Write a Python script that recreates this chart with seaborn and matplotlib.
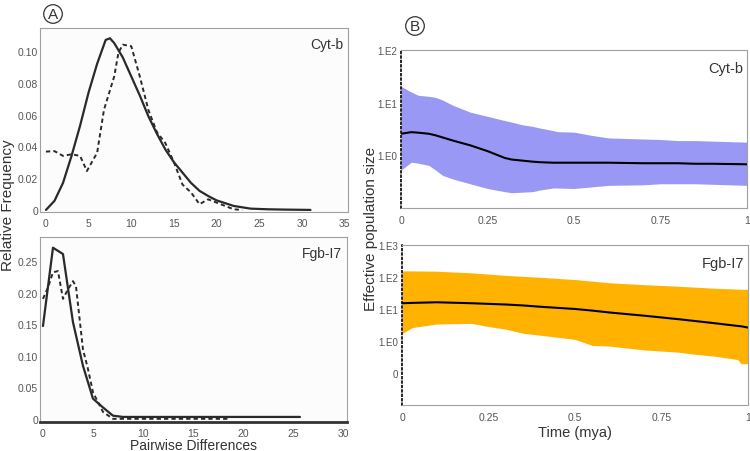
import numpy as np
import pandas as pd
import seaborn as sns
from matplotlib import pyplot as plt
from matplotlib.ticker import FixedLocator, NullLocator

sns.set_style("white")
plt.rcParams["font.family"] = ["Liberation Sans", "DejaVu Sans"]

# Panel A: mismatch distributions (observed = dashed, expected = solid)
cyt_x_exp = [0, 1, 2, 3, 4, 5, 6, 7, 7.5, 8, 9, 10, 11, 12, 13, 14, 15, 16, 17, 18, 19, 20, 22, 24, 26, 28, 31]
cyt_y_exp = [0.000, 0.0057, 0.017, 0.034, 0.053, 0.074, 0.092, 0.107, 0.108, 0.105, 0.096, 0.084,
             0.072, 0.059, 0.048, 0.038, 0.030, 0.0235, 0.017, 0.012, 0.0088, 0.006, 0.0025,
             0.0008, 0.0004, 0.0002, 0.0]
cyt_x_obs = [0, 1, 2, 3, 4, 4.8, 6, 6.8, 8, 8.5, 9, 10, 11, 12, 13, 14, 15, 16, 17, 18, 19, 20, 21, 22, 23]
cyt_y_obs = [0.0367, 0.037, 0.034, 0.035, 0.034, 0.0245, 0.036, 0.063, 0.084, 0.099, 0.104, 0.103,
             0.084, 0.063, 0.049, 0.042, 0.030, 0.016, 0.011, 0.0036, 0.0067, 0.0046, 0.0025,
             0.0004, 0.0]

fgb_x_exp = [0, 1, 2, 3, 4, 5, 6, 7, 8, 10, 15, 20, 25.7]
fgb_y_exp = [0.147, 0.271, 0.261, 0.153, 0.084, 0.032, 0.018, 0.005, 0.003, 0.003, 0.003, 0.003, 0.003]
fgb_x_obs = [0, 0.5, 1, 1.5, 2, 2.5, 3, 3.3, 4, 4.5, 5, 6, 7, 8, 12, 18.5]
fgb_y_obs = [0.19, 0.208, 0.232, 0.234, 0.19, 0.205, 0.218, 0.21, 0.11, 0.079, 0.042, 0.011,
             0.0, 0.0, 0.0, 0.0]

# Panel B: Bayesian skyline plots (log10 of Ne)
time_cyt = [0, 0.03, 0.05, 0.08, 0.1, 0.12, 0.15, 0.2, 0.25, 0.3, 0.32, 0.35, 0.38, 0.4, 0.44,
            0.45, 0.5, 0.55, 0.6, 0.7, 0.75, 0.8, 0.85, 0.9, 1.0]
cyt_upper = [1.31, 1.2, 1.14, 1.12, 1.10, 1.05, 0.95, 0.82, 0.74, 0.66, 0.63, 0.58, 0.55, 0.52,
             0.47, 0.45, 0.44, 0.38, 0.33, 0.31, 0.30, 0.28, 0.28, 0.27, 0.25]
cyt_median = [0.41, 0.44, 0.43, 0.41, 0.38, 0.34, 0.28, 0.19, 0.08, -0.05, -0.08, -0.10, -0.12,
              -0.13, -0.14, -0.14, -0.14, -0.14, -0.14, -0.15, -0.15, -0.15, -0.16, -0.16, -0.17]
cyt_lower = [-0.28, -0.13, -0.15, -0.19, -0.28, -0.38, -0.45, -0.54, -0.63, -0.69, -0.71, -0.70,
             -0.69, -0.66, -0.62, -0.62, -0.63, -0.60, -0.57, -0.56, -0.54, -0.54, -0.54, -0.55, -0.57]

time_fgb = [0, 0.03, 0.1, 0.2, 0.25, 0.3, 0.35, 0.4, 0.5, 0.55, 0.6, 0.7, 0.8, 0.85, 0.9, 0.97, 0.98, 1.0]
fgb_upper = [2.19, 2.19, 2.18, 2.13, 2.09, 2.05, 2.02, 1.99, 1.92, 1.87, 1.82, 1.76, 1.71, 1.68,
             1.65, 1.62, 1.62, 1.61]
fgb_median = [1.18, 1.19, 1.21, 1.18, 1.16, 1.14, 1.11, 1.07, 1.0, 0.95, 0.89, 0.79, 0.68, 0.62,
              0.56, 0.47, 0.46, 0.42]
fgb_lower = [0.23, 0.42, 0.53, 0.55, 0.45, 0.37, 0.24, 0.18, 0.05, -0.14, -0.16, -0.28, -0.35,
             -0.42, -0.47, -0.58, -0.71, -0.71]

gray = "#555555"
spine_gray = "#a0a0a0"

fig = plt.figure(figsize=(7.5, 4.52), dpi=100)
axA1 = fig.add_axes([0.0533, 0.5288, 0.4107, 0.4071])
axA2 = fig.add_axes([0.0533, 0.0642, 0.4093, 0.4093])
axB1 = fig.add_axes([0.5347, 0.5376, 0.4613, 0.3496])
axB2 = fig.add_axes([0.536, 0.1018, 0.4613, 0.354])

dash = (0, (2.2, 1.6))


def mismatch(ax, xe, ye, xo, yo, xlim, ylim, xticks, yticks, ylabels, name):
    ax.set_facecolor("#fcfcfc")
    sns.lineplot(x=xe, y=ye, ax=ax, color="#2a2a2a", lw=1.6)
    sns.lineplot(x=xo, y=yo, ax=ax, color="#2a2a2a", lw=1.4, linestyle=dash)
    ax.set_xlim(xlim)
    ax.set_ylim(ylim)
    ax.set_xticks(xticks)
    ax.set_xticklabels([str(t) for t in xticks])
    ax.set_yticks(yticks)
    ax.set_yticklabels(ylabels)
    ax.tick_params(axis="y", length=0, labelsize=7.5, labelcolor=gray, pad=1.5)
    ax.tick_params(axis="x", length=0, labelsize=7.5, labelcolor=gray, pad=4)
    for s in ax.spines.values():
        s.set_color(spine_gray)
        s.set_linewidth(0.8)
    ax.text(0.985, 0.95, name, transform=ax.transAxes, ha="right", va="top",
            fontsize=10, color="#333333")


mismatch(axA1, cyt_x_exp, cyt_y_exp, cyt_x_obs, cyt_y_obs, (-0.7, 35.4), (-0.0013, 0.1145),
         [0, 5, 10, 15, 20, 25, 30, 35], [0, 0.02, 0.04, 0.06, 0.08, 0.10],
         ["0", "0.02", "0.04", "0.06", "0.08", "0.10"], "Cyt-b")
mismatch(axA2, fgb_x_exp, fgb_y_exp, fgb_x_obs, fgb_y_obs, (-0.3, 30.4), (-0.005, 0.288),
         [0, 5, 10, 15, 20, 25, 30], [0, 0.05, 0.10, 0.15, 0.20, 0.25],
         ["0", "0.05", "0.10", "0.15", "0.20", "0.25"], "Fgb-I7")
axA2.spines["bottom"].set_color("#333333")
axA2.spines["bottom"].set_linewidth(2)
fig.text(194 / 750, 1 - 446 / 452, "Pairwise Differences", ha="center", va="center",
         fontsize=10, color="#333333")


def skyline(ax, t, lo, med, hi, color, ylim, ticks, labels, name):
    lo_v = 10 ** np.array(lo)
    hi_v = 10 ** np.array(hi)
    med_v = 10 ** np.array(med)
    ax.fill_between(t, lo_v, hi_v, color=color, lw=0)
    sns.lineplot(x=t, y=med_v, ax=ax, color="black", lw=1.5)
    ax.set_yscale("log")
    ax.set_xlim(0, 1)
    ax.set_ylim(ylim)
    ax.yaxis.set_major_locator(FixedLocator(ticks))
    ax.yaxis.set_minor_locator(NullLocator())
    ax.set_yticklabels(labels)
    ax.set_xticks([0, 0.25, 0.5, 0.75, 1])
    ax.set_xticklabels(["0", "0.25", "0.5", "0.75", "1"])
    ax.tick_params(axis="y", length=2, width=1, color="black", labelsize=7, labelcolor=gray, pad=1)
    ax.tick_params(axis="x", length=2, width=1.5, color="black", labelsize=7.5, labelcolor=gray, pad=3)
    for s in ["top", "right"]:
        ax.spines[s].set_color(spine_gray)
        ax.spines[s].set_linewidth(0.8)
    ax.spines["left"].set_color("black")
    ax.spines["left"].set_linestyle(":")
    ax.spines["left"].set_linewidth(1.2)
    ax.spines["bottom"].set_color(spine_gray)
    ax.spines["bottom"].set_linewidth(0.8)
    ax.text(0.99, 0.93, name, transform=ax.transAxes, ha="right", va="top",
            fontsize=10.5, color="#333333")


skyline(axB1, time_cyt, cyt_lower, cyt_median, cyt_upper, "#9999f5", (0.1, 100),
        [1, 10, 100], ["1.E0", "1.E1", "1.E2"], "Cyt-b")
skyline(axB2, time_fgb, fgb_lower, fgb_median, fgb_upper, "#ffb300", (0.01, 1000),
        [0.1, 1, 10, 100, 1000], ["0", "1.E0", "1.E1", "1.E2", "1.E3"], "Fgb-I7")
axB2.set_xlabel("Time (mya)", fontsize=10.5, color="#333333", labelpad=2)

fig.text(0.011, 1 - 205 / 452, "Relative Frequency", rotation=90, ha="center", va="center",
         fontsize=11, color="#333333")
fig.text(0.495, 1 - 229 / 452, "Effective population size", rotation=90, ha="center",
         va="center", fontsize=11, color="#333333")

circ = dict(boxstyle="circle,pad=0.15", fc="white", ec="#333333", lw=0.9)
fig.text(53 / 750, 1 - 15 / 452, "A", ha="center", va="center", fontsize=11,
         color="#333333", bbox=circ)
fig.text(415 / 750, 1 - 27 / 452, "B", ha="center", va="center", fontsize=11,
         color="#333333", bbox=circ)

fig.savefig("out.png", dpi=100)
